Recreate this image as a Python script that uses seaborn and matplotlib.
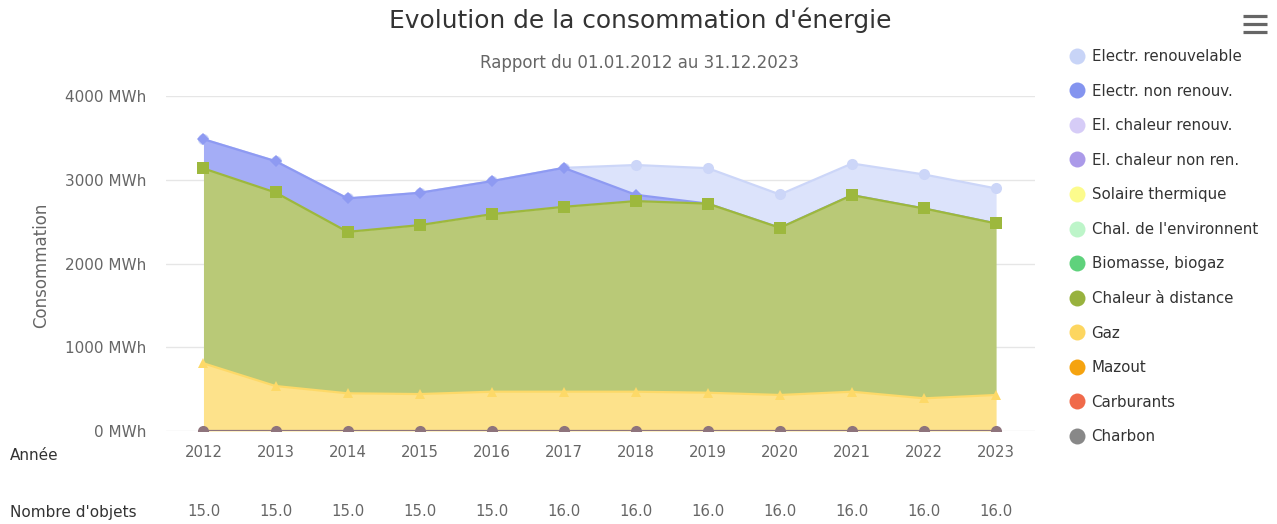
import numpy as np
import pandas as pd
import matplotlib
matplotlib.use("Agg")
import matplotlib.pyplot as plt
import seaborn as sns
from matplotlib.lines import Line2D
from matplotlib.transforms import blended_transform_factory

# ---------------- data ----------------
years = [2012, 2013, 2014, 2015, 2016, 2017, 2018, 2019, 2020, 2021, 2022, 2023]
nombre_objets = [15.0, 15.0, 15.0, 15.0, 15.0, 16.0, 16.0, 16.0, 16.0, 16.0, 16.0, 16.0]

series_names = ["Electr. renouvelable", "Electr. non renouv.", "El. chaleur renouv.",
                "El. chaleur non ren.", "Solaire thermique", "Chal. de l'environnent",
                "Biomasse, biogaz", "Chaleur à distance", "Gaz", "Mazout",
                "Carburants", "Charbon"]

electr_renouv = [0, 0, 0, 0, 0, 0, 356, 423, 398, 378, 406, 418]
electr_non_renouv = [349, 374, 399, 386, 394, 465, 75, 0, 0, 0, 0, 0]
el_chaleur_renouv = [0] * 12
el_chaleur_non_ren = [0] * 12
solaire_thermique = [0] * 12
chal_environnement = [0] * 12
biomasse_biogaz = [0] * 12
chaleur_distance = [2327, 2311, 1928, 2017, 2120, 2208, 2276, 2258, 1996, 2347, 2267, 2048]
gaz = [808, 537, 450, 441, 469, 469, 469, 457, 430, 469, 390, 430]
mazout = [0] * 12
carburants = [0] * 12
charbon = [0] * 12

values = [electr_renouv, electr_non_renouv, el_chaleur_renouv, el_chaleur_non_ren,
          solaire_thermique, chal_environnement, biomasse_biogaz, chaleur_distance,
          gaz, mazout, carburants, charbon]

legend_colors = ["#c8d4f7", "#8494ef", "#d6ccf7", "#ab9ae9", "#fcfb8c", "#bdf5c9",
                 "#5fd27c", "#98b23e", "#fdd660", "#f5a30f", "#f06a4a", "#888888"]
fill_colors = ["#dce3fb", "#a4adf6", "#e4ddfa", "#c4b8f0", "#fdfcb0", "#d4f8da",
               "#8fdea3", "#b9c977", "#fde28b", "#f8c060", "#f59a84", "#aaaaaa"]
line_colors = ["#ccd6f8", "#8e9af2", "#d6ccf7", "#ab9ae9", "#fcfb8c", "#bdf5c9",
               "#5fd27c", "#9db83d", "#fdd968", "#f5a30f", "#f06a4a", "#8e747c"]
marker_shapes = ["o", "D", "s", "^", "v", "o", "D", "s", "^", "v", "o", "o"]
marker_sizes = [8, 6, 8, 8, 8, 8, 6, 8, 7, 8, 8, 8]

df = pd.DataFrame({name: vals for name, vals in zip(series_names, values)}, index=years)

# ---------------- style ----------------
sns.set_theme(style="white")
plt.rcParams['font.family'] = ['DejaVu Sans']

W, H = 1277, 524
fig = plt.figure(figsize=(W / 100, H / 100), dpi=100)
ax_left, ax_right, ax_top, ax_bottom = 166, 1035, 96, 431
ax = fig.add_axes([ax_left / W, 1 - ax_bottom / H, (ax_right - ax_left) / W, (ax_bottom - ax_top) / H])

# ---------------- stacked areas (bottom to top) ----------------
base = np.zeros(len(years))
tops = {}
for i in reversed(range(len(series_names))):
    name = series_names[i]
    vals = df[name].to_numpy(dtype=float)
    top = base + vals
    z = 2 + 0.1 * i
    ax.fill_between(years, base, top, color=fill_colors[i], linewidth=0, zorder=z)
    tops[name] = top
    base = top

for i, name in enumerate(series_names):
    vals = df[name].to_numpy(dtype=float)
    if vals.sum() == 0 and name != "Charbon":
        continue
    z = 2.05 + 0.1 * i
    sns.lineplot(x=years, y=tops[name], ax=ax, color=line_colors[i],
                 marker=marker_shapes[i], markersize=marker_sizes[i],
                 markeredgewidth=0, linewidth=1.6, zorder=z, legend=False,
                 estimator=None)

# ---------------- axes ----------------
ax.set_xlim(2011.48, 2023.54)
ax.set_ylim(0, 4000)
yt = [0, 1000, 2000, 3000, 4000]
ax.set_yticks(yt)
ax.set_yticklabels([f"{v} MWh" for v in yt])
ax.set_xticks(years)
ax.set_xticklabels([str(y) for y in years])
ax.tick_params(axis='y', length=0, pad=14, labelsize=11, labelcolor="#666666")
ax.tick_params(axis='x', length=0, pad=10, labelsize=10.7, labelcolor="#666666")
ax.grid(axis='y', color="#e6e6e6", linewidth=1)
ax.grid(axis='x', visible=False)
for s in ax.spines.values():
    s.set_visible(False)
ax.set_xlabel("")
ax.set_ylabel("Consommation", fontsize=12, color="#666666")
ax.yaxis.set_label_coords((50 - ax_left) / (ax_right - ax_left), (ax_bottom - 265) / (ax_bottom - ax_top))

# ---------------- titles ----------------
fig.text(640 / W, 1 - 20 / H, "Evolution de la consommation d'énergie", ha='center', va='center',
         fontsize=17.9, color="#333333")
fig.text(640 / W, 1 - 63 / H, "Rapport du 01.01.2012 au 31.12.2023", ha='center', va='center',
         fontsize=12, color="#666666")

# ---------------- bottom table ----------------
fig.text(10 / W, 1 - 456 / H, "Année", ha='left', va='center', fontsize=11, color="#333333")
fig.text(10 / W, 1 - 512 / H, "Nombre d'objets", ha='left', va='center', fontsize=11, color="#333333")
trans = blended_transform_factory(ax.transData, fig.transFigure)
for y, n in zip(years, nombre_objets):
    ax.text(y, 1 - 511 / H, f"{n:.1f}", transform=trans, ha='center', va='center',
            fontsize=10.7, color="#666666")

# ---------------- legend ----------------
handles = [Line2D([], [], marker='o', linestyle='', markersize=11.5, markeredgewidth=0,
                  color=c) for c in legend_colors]
leg = fig.legend(handles, series_names, loc='upper left',
                 bbox_to_anchor=(1063 / W, 1 - 43 / H), frameon=False,
                 fontsize=10.8, labelcolor="#333333", handlelength=1.0,
                 handletextpad=0.5, labelspacing=1.305, borderaxespad=0)

# ---------------- menu icon ----------------
for yy in (16, 24, 32):
    fig.add_artist(Line2D([1243 / W, 1267 / W], [1 - yy / H, 1 - yy / H],
                          transform=fig.transFigure, color="#666666", linewidth=2.3,
                          solid_capstyle='butt'))

fig.savefig("out.png", dpi=100)
